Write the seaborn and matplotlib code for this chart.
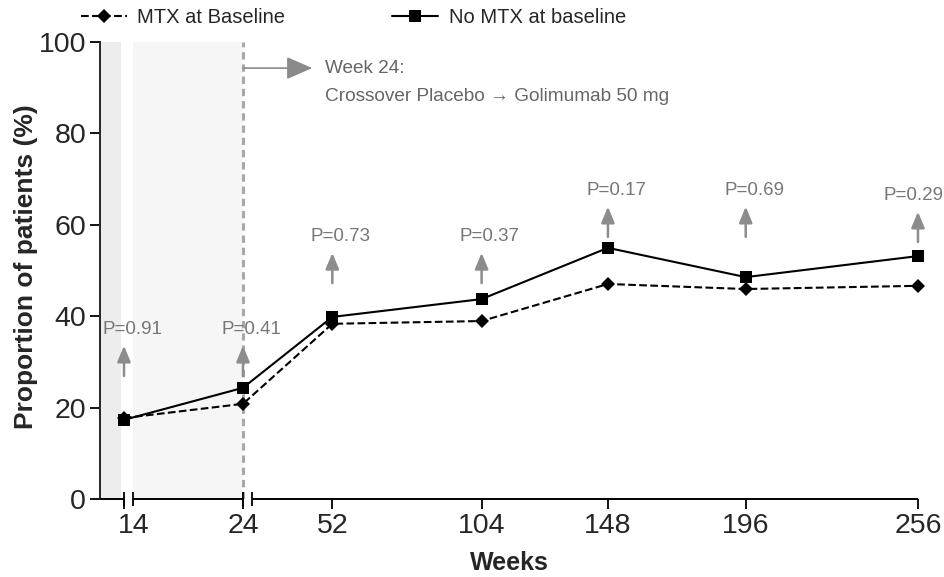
import numpy as np
import matplotlib
matplotlib.use("Agg")
import matplotlib.pyplot as plt
import seaborn as sns
from matplotlib.transforms import offset_copy, ScaledTranslation

# Proportion of patients (%) per visit week
weeks = [14, 24, 52, 104, 148, 196, 256]
mtx_baseline = [17.7, 20.8, 38.3, 38.9, 47.0, 45.9, 46.6]
no_mtx_baseline = [17.3, 24.3, 39.8, 43.7, 54.9, 48.5, 53.1]
series_names = ["MTX at Baseline", "No MTX at baseline"]

# p-value annotations (label + where the little arrow starts)
p_labels = ["P=0.91", "P=0.41", "P=0.73", "P=0.37", "P=0.17", "P=0.69", "P=0.29"]
arrow_base = [26.9, 26.9, 47.2, 47.2, 57.3, 57.3, 56.2]

sns.set_style("ticks")
plt.rcParams['font.family'] = ['Liberation Sans', 'DejaVu Sans']

# broken x axis: 0-14, 14-24 and 24-256 each get their own stretch
gap = 0.01
brk_w = [-100, 0, 14, 14 + gap, 24, 24 + gap, 256, 400]
brk_s = [-171.4, 0, 24, 33, 143, 152, 818, 1231.4]


def fwd(x):
    return np.interp(x, brk_w, brk_s)


def inv(s):
    return np.interp(s, brk_s, brk_w)


fig = plt.figure(figsize=(9.45, 5.77), dpi=100)
ax = fig.add_axes([0.1058, 0.1352, 0.8656, 0.7928])
ax.set_xscale('function', functions=(fwd, inv))

# shaded placebo-controlled periods
ax.axvspan(0, 12, color='#ededed', lw=0, zorder=0)
ax.axvspan(14 + gap, 24, color='#f6f6f6', lw=0, zorder=0)
ax.axvline(24, color='#a8a8a8', lw=2.2, ls=(0, (2.4, 1.6)), zorder=1)

sns.lineplot(x=weeks, y=mtx_baseline, ax=ax, color='black', lw=1.5, ls='--',
             marker='D', markersize=7, markeredgewidth=0, label=series_names[0],
             clip_on=False, zorder=4)
sns.lineplot(x=weeks, y=no_mtx_baseline, ax=ax, color='black', lw=1.5, ls='-',
             marker='s', markersize=8, markeredgewidth=0, label=series_names[1],
             clip_on=False, zorder=4)

# crossover note
ax.annotate('', xy=(45, 94.2), xytext=(24, 94.2),
            arrowprops=dict(arrowstyle='-|>,head_length=0.8,head_width=0.35',
                            color='#8a8a8a', lw=1.2, mutation_scale=20,
                            shrinkA=0, shrinkB=0))
ax.text(49.4, 94.2, 'Week 24:', va='center', ha='left', fontsize=13.7, color='#666666')
ax.text(49.4, 87.9, 'Crossover Placebo \u2192 Golimumab 50 mg', va='center', ha='left',
        fontsize=13.7, color='#666666')

# p-value arrows
for i, (w, b, lab) in enumerate(zip(weeks, arrow_base, p_labels)):
    ax.annotate('', xy=(w, b + 6.6), xytext=(w, b),
                arrowprops=dict(arrowstyle='-|>,head_length=0.6,head_width=0.25',
                                color='#8c8c8c', lw=1.8, mutation_scale=16,
                                shrinkA=0, shrinkB=0))
    dx = 6 if i < len(weeks) - 1 else -3
    tr = offset_copy(ax.transData, fig=fig, x=dx, y=0, units='points')
    ax.text(w, b + 10.1, lab, transform=tr, ha='center', va='center',
            fontsize=13.5, color='#777777', clip_on=False)

# axes
ax.set_xlim(0, 256)
ax.set_ylim(0, 100)
ax.set_yticks([0, 20, 40, 60, 80, 100])
ax.set_xticks(weeks)
ax.set_xticklabels([str(w) for w in weeks])
ax.tick_params(axis='both', direction='out', length=7, width=1.3, labelsize=20.5,
               color='black', pad=3)
ax.xaxis.set_minor_locator(matplotlib.ticker.NullLocator())
# week 14 label sits a little right of its tick in the original
first = ax.get_xticklabels()[0]
first.set_transform(first.get_transform() + ScaledTranslation(7 / 72, 0, fig.dpi_scale_trans))

for side in ['top', 'right', 'bottom']:
    ax.spines[side].set_visible(False)
ax.spines['left'].set_linewidth(1.4)
# axis line broken at week 14 and week 24
seg_start = [0, 14 + gap, 24 + gap]
seg_end = [14, 24, 256]
ax.hlines([0, 0, 0], seg_start, seg_end, color='black', lw=1.4,
          clip_on=False, zorder=5)
ax.vlines([14, 14 + gap, 24, 24 + gap], -1.6, 1.6, color='black', lw=1.3,
          clip_on=False, zorder=5)

ax.set_ylabel('Proportion of patients (%)', fontsize=19, fontweight='bold')
ax.yaxis.set_label_coords(-0.076, 0.507)
ax.set_xlabel('Weeks', fontsize=18, fontweight='bold', labelpad=9)

handles, labels = ax.get_legend_handles_labels()
ax.get_legend().remove()
fig.legend(handles, labels, loc='center', bbox_to_anchor=(0.374, 0.969), ncol=2,
           frameon=False, fontsize=14.5, handlelength=2.3, columnspacing=5.3,
           handletextpad=0.5)

fig.savefig('out.png', dpi=100)
